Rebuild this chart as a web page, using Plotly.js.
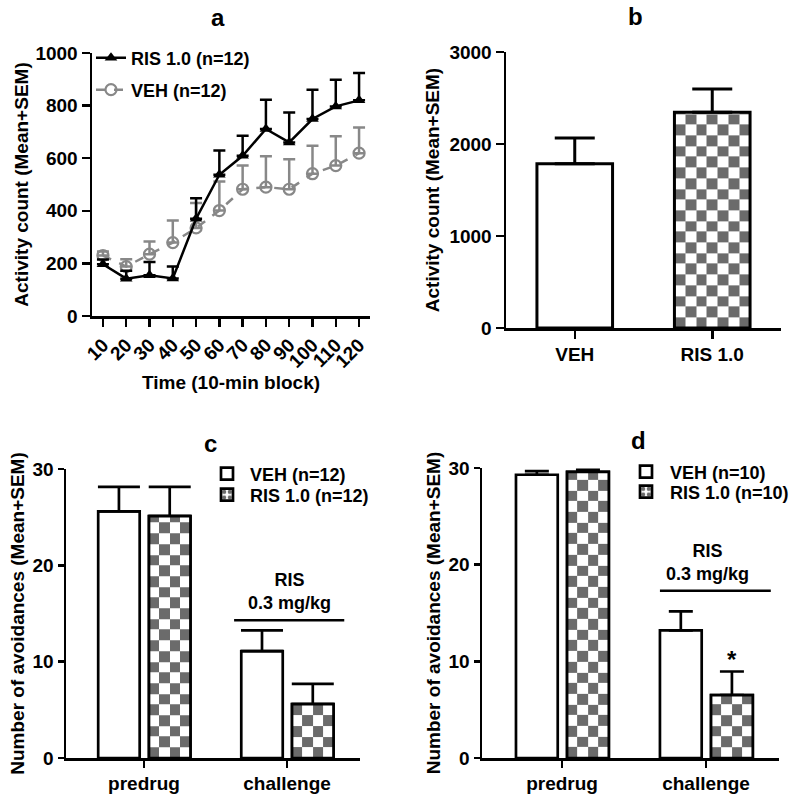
<!DOCTYPE html>
<html><head><meta charset="utf-8">
<script src="https://cdn.plot.ly/plotly-3.0.1.min.js"></script>
<style>html,body{margin:0;padding:0;background:#fff}#chart{width:800px;height:797px}</style>
</head><body><div id="chart"></div>
<script>
// ---------- DATA ----------
// Panel a: activity per 10-min block
const timeBlocks = [10, 20, 30, 40, 50, 60, 70, 80, 90, 100, 110, 120];
const timeLabels = timeBlocks.map(String);
const risMean = [197, 142, 155, 143, 370, 537, 609, 711, 660, 749, 797, 820];
const risSem  = [18, 30, 50, 45, 78, 92, 76, 111, 114, 111, 101, 104];
const vehMean = [230, 188, 235, 279, 335, 401, 482, 490, 482, 541, 572, 619];
const vehSem  = [15, 28, 48, 84, 95, 110, 90, 117, 114, 106, 111, 98];
// Panel b: total activity
const bGroups = ['VEH', 'RIS 1.0'];
const bMean = [1786, 2344];
const bSem  = [280, 254];
// Panel c: avoidances (n=12)
const phases = ['predrug', 'challenge'];
const cVehMean = [25.6, 11.1];
const cVehSem  = [2.55, 2.15];
const cRisMean = [25.1, 5.6];
const cRisSem  = [3.05, 2.1];
// Panel d: avoidances (n=10)
const dVehMean = [29.3, 13.2];
const dVehSem  = [0.38, 1.97];
const dRisMean = [29.6, 6.5];
const dRisSem  = [0.2, 2.45];

// ---------- STYLE HELPERS ----------
const W = 800, H = 797;
const FONT = 'Liberation Sans, Arial, Helvetica, sans-serif';
const GRAY = '#6b6b6b';
const LGRAY = '#888888';
const dx = (a, b) => [a / W, b / W];
const dy = (top, bottom) => [1 - bottom / H, 1 - top / H];
const bold = (size) => ({family: FONT, size: size, color: '#000', weight: 'bold'});

const P = {
  a: {x: [92, 370], y: [53, 316], yr: [0, 1000]},
  b: {x: [506, 781], y: [52, 328], yr: [0, 3000]},
  c: {x: [66, 360], y: [469, 758], yr: [0, 30]},
  d: {x: [482, 779], y: [468, 758], yr: [0, 30]}
};
const SQ = 10.7; // checker square size in px

function checker(pos, offset, width, values, nCols, panel, xa, ya) {
  const yr = P[panel].yr;
  const rowH = SQ * (yr[1] - yr[0]) / (P[panel].y[1] - P[panel].y[0]);
  return pos.map((c, idx) => {
    const v = values[idx];
    const xs = [];
    for (let k = 0; k <= nCols; k++) xs.push(c + offset + width * k / nCols);
    const ys = [0];
    let yv = rowH;
    while (yv < v - rowH * 0.1) { ys.push(yv); yv += rowH; }
    ys.push(v);
    const z = [];
    for (let i = 0; i < ys.length - 1; i++) {
      const row = [];
      for (let j = 0; j < nCols; j++) row.push((i + j) % 2 === 0 ? 1 : 0);
      z.push(row);
    }
    return {type: 'heatmap', x: xs, y: ys, z: z, zmin: 0, zmax: 1, zsmooth: false,
      colorscale: [[0, '#ffffff'], [1, GRAY]], showscale: false, hoverinfo: 'skip',
      showlegend: false, xaxis: xa, yaxis: ya};
  });
}

const idxB = bGroups.map((_, i) => i);
const idxP = phases.map((_, i) => i);

const errUp = (arr, color, width, thick) => ({type: 'data', symmetric: false, array: arr,
  arrayminus: arr.map(() => 0), color: color, thickness: thick, width: width, visible: true});

const traces = [];
// ----- Panel a -----
traces.push({type: 'scatter', mode: 'lines+markers', x: timeBlocks, y: vehMean, name: 'VEH (n=12)',
  line: {color: LGRAY, width: 2.5, dash: 'dash'},
  marker: {symbol: 'circle-open', size: 11, color: LGRAY, line: {width: 2.2, color: LGRAY}},
  error_y: errUp(vehSem, LGRAY, 6, 2.5), xaxis: 'x', yaxis: 'y', legend: 'legend2'});
traces.push({type: 'scatter', mode: 'lines+markers', x: timeBlocks, y: risMean, name: 'RIS 1.0 (n=12)',
  line: {color: '#000', width: 2.5},
  marker: {symbol: 'triangle-up', size: 11, color: '#000'},
  error_y: errUp(risSem, '#000', 6, 2.5), xaxis: 'x', yaxis: 'y', legend: 'legend'});

// ----- Panel b -----
const bOff = -0.275, bW = 0.55;
traces.push(...checker([idxB[1]], bOff, bW, [bMean[1]], 7, 'b', 'x2', 'y2'));
traces.push({type: 'bar', x: idxB, y: bMean, offset: bOff, width: bW, showlegend: false,
  marker: {color: ['#ffffff', 'rgba(0,0,0,0)'], line: {color: '#000', width: 3}},
  error_y: errUp(bSem, '#000', 20, 3), xaxis: 'x2', yaxis: 'y2'});

// ----- Panel c & d -----
const vOff = -0.32, rOff = 0.035, gW = 0.29;
function groupPanel(vehM, vehS, risM, risS, n, xa, ya, yov, lv, lr, capW) {
  traces.push({type: 'bar', x: idxP, y: vehM, offset: vOff, width: gW, name: 'VEH (n=' + n + ')',
    marker: {color: '#ffffff', line: {color: '#000', width: 2.7}},
    error_y: errUp(vehS, '#000', capW, 2.7), xaxis: xa, yaxis: ya, legend: lv});
  traces.push({type: 'bar', x: idxP, y: risM, offset: rOff, width: gW, name: 'RIS 1.0 (n=' + n + ')',
    marker: {color: '#ffffff', line: {color: '#000', width: 2.7},
      pattern: {shape: '.', fgcolor: GRAY, bgcolor: '#ffffff', size: 7, solidity: 0.45}},
    error_y: errUp(risS, '#000', capW, 2.7), xaxis: xa, yaxis: ya, legend: lr});
  traces.push(...checker(idxP, rOff, gW, risM, 4, xa === 'x3' ? 'c' : 'd', xa, yov));
  traces.push({type: 'bar', x: idxP, y: risM, offset: rOff, width: gW, showlegend: false,
    marker: {color: 'rgba(0,0,0,0)', line: {color: '#000', width: 2.7}}, hoverinfo: 'skip',
    xaxis: xa, yaxis: yov});
}
groupPanel(cVehMean, cVehSem, cRisMean, cRisSem, 12, 'x3', 'y3', 'y5', 'legend3', 'legend4', 21);
groupPanel(dVehMean, dVehSem, dRisMean, dRisSem, 10, 'x4', 'y4', 'y6', 'legend5', 'legend6', 12);

// ---------- LAYOUT ----------
const axBase = (len) => ({showline: true, linecolor: '#000', linewidth: 2.5, ticks: 'outside',
  tickcolor: '#000', tickwidth: 2.5, ticklen: len, showgrid: false, zeroline: false,
  tickfont: bold(19), fixedrange: true});
const yTitle = (t, st) => ({text: t, font: bold(19), standoff: st});

const legendBase = (x, y, iw) => ({x: x, y: y, xanchor: 'left', yanchor: 'middle', xref: 'paper', yref: 'paper',
  bgcolor: 'rgba(0,0,0,0)', borderwidth: 0, font: bold(18), itemwidth: iw, itemclick: false, itemdoubleclick: false});

const letter = (t, x, y) => ({text: t, x: x / W, y: 1 - y / H, xref: 'paper', yref: 'paper',
  xanchor: 'center', yanchor: 'middle', showarrow: false, font: bold(24)});

const layout = {
  width: W, height: H, margin: {l: 0, r: 0, t: 0, b: 0}, paper_bgcolor: '#fff', plot_bgcolor: 'rgba(0,0,0,0)',
  font: bold(19), barmode: 'overlay', showlegend: true, hovermode: false,
  xaxis: Object.assign(axBase(8), {domain: dx(...P.a.x), anchor: 'y', range: [5.3, 124.7],
    tickvals: timeBlocks, ticktext: timeLabels, tickangle: -45,
    title: {text: 'Time (10-min block)', font: bold(19), standoff: 2}}),
  yaxis: Object.assign(axBase(8), {domain: dy(...P.a.y), anchor: 'x', range: P.a.yr,
    tickvals: [0, 200, 400, 600, 800, 1000], title: yTitle('Activity count (Mean+SEM)', 2)}),
  xaxis2: Object.assign(axBase(8), {domain: dx(...P.b.x), anchor: 'y2', range: [-0.5, 1.5],
    tickvals: idxB, ticktext: bGroups}),
  yaxis2: Object.assign(axBase(8), {domain: dy(...P.b.y), anchor: 'x2', range: P.b.yr,
    tickvals: [0, 1000, 2000, 3000], title: yTitle('Activity count (Mean+SEM)', 5)}),
  xaxis3: Object.assign(axBase(7), {domain: dx(...P.c.x), anchor: 'y3', range: [-0.545, 1.51],
    tickvals: idxP, ticktext: phases}),
  yaxis3: Object.assign(axBase(6), {domain: dy(...P.c.y), anchor: 'x3', range: P.c.yr,
    tickvals: [0, 10, 20, 30], title: yTitle('Number of avoidances (Mean+SEM)', 3)}),
  xaxis4: Object.assign(axBase(7), {domain: dx(...P.d.x), anchor: 'y4', range: [-0.556, 1.507],
    tickvals: idxP, ticktext: phases}),
  yaxis4: Object.assign(axBase(6), {domain: dy(...P.d.y), anchor: 'x4', range: P.d.yr,
    tickvals: [0, 10, 20, 30], title: yTitle('Number of avoidances (Mean+SEM)', 3)}),
  yaxis5: {overlaying: 'y3', anchor: 'x3', range: P.c.yr, visible: false, fixedrange: true},
  yaxis6: {overlaying: 'y4', anchor: 'x4', range: P.d.yr, visible: false, fixedrange: true},
  legend:  legendBase(91 / W, 1 - 58 / H, 30),
  legend2: legendBase(91 / W, 1 - 90 / H, 30),
  legend3: legendBase(204 / W, 1 - 474 / H, 36),
  legend4: legendBase(204 / W, 1 - 495 / H, 36),
  legend5: legendBase(622 / W, 1 - 472 / H, 38),
  legend6: legendBase(622 / W, 1 - 492 / H, 38),
  annotations: [
    letter('a', 218, 17),
    letter('b', 635, 16),
    letter('c', 210, 443),
    letter('d', 638, 440),
    {text: 'RIS<br>0.3 mg/kg', x: 1.02, y: 17.3, xref: 'x3', yref: 'y3', xanchor: 'center', yanchor: 'middle',
      showarrow: false, font: bold(18)},
    {text: 'RIS<br>0.3 mg/kg', x: 1.01, y: 20.2, xref: 'x4', yref: 'y4', xanchor: 'center', yanchor: 'middle',
      showarrow: false, font: bold(18)},
    {text: '*', x: idxP[1] + rOff + gW / 2, y: dRisMean[1] + dRisSem[1] + 1.2, xref: 'x4', yref: 'y4',
      showarrow: false, font: bold(24)}
  ],
  shapes: [
    {type: 'line', xref: 'x3', yref: 'y3', x0: 0.63, x1: 1.40, y0: 14.3, y1: 14.3, line: {color: '#000', width: 2.5}},
    {type: 'line', xref: 'x4', yref: 'y4', x0: 0.68, x1: 1.45, y0: 17.3, y1: 17.3, line: {color: '#000', width: 2.5}}
  ]
};

Plotly.newPlot('chart', traces, layout, {displayModeBar: false, staticPlot: true});
</script>
</body></html>
